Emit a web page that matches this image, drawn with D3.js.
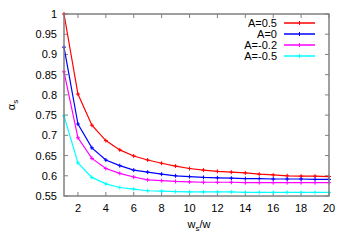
<!DOCTYPE html>
<html><head><meta charset="utf-8">
<script src="https://cdn.jsdelivr.net/npm/d3@7"></script>
<style>body{margin:0;background:#fff}svg{display:block}</style>
</head><body>
<script>
const xValues = [1,2,3,4,5,6,7,8,9,10,11,12,13,14,15,16,17,18,19,20];
const seriesNames = ["A=0.5","A=0","A=-0.2","A=-0.5"];
const seriesColors = ["#ff0000","#0000ff","#ff00ff","#00ffff"];
const valsA05 = [1.000,0.802,0.725,0.687,0.664,0.649,0.639,0.631,0.624,0.618,0.614,0.611,0.609,0.607,0.604,0.602,0.600,0.599,0.599,0.598];
const valsA0  = [0.918,0.728,0.669,0.639,0.625,0.614,0.609,0.604,0.600,0.598,0.596,0.595,0.594,0.593,0.593,0.592,0.592,0.592,0.591,0.591];
const valsAm02= [0.857,0.694,0.643,0.618,0.606,0.597,0.590,0.588,0.586,0.585,0.584,0.584,0.584,0.583,0.583,0.583,0.583,0.583,0.583,0.583];
const valsAm05= [0.748,0.632,0.596,0.580,0.571,0.567,0.563,0.562,0.561,0.560,0.560,0.560,0.560,0.559,0.559,0.559,0.559,0.559,0.559,0.559];
const xTicks = [2,4,6,8,10,12,14,16,18,20];
const yTicks = [0.55,0.6,0.65,0.7,0.75,0.8,0.85,0.9,0.95,1];

const series = [valsA05, valsA0, valsAm02, valsAm05];
const W=350,H=245;
const L=64,R=329,T=14,B=196;
const svg=d3.select("body").append("svg").attr("width",W).attr("height",H)
  .style("font-family","'Liberation Sans', Arial, sans-serif");
const x=d3.scaleLinear().domain([1,20]).range([L,R]);
const y=d3.scaleLinear().domain([0.55,1]).range([B,T]);
const axisColor="#808080";
const fs=11;

// ticks inside, mirrored
const tl=4;
const gt=svg.append("g").attr("stroke",axisColor).attr("stroke-width",1);
xTicks.forEach(t=>{
  gt.append("line").attr("x1",x(t)).attr("x2",x(t)).attr("y1",B).attr("y2",B-tl);
  gt.append("line").attr("x1",x(t)).attr("x2",x(t)).attr("y1",T).attr("y2",T+tl);
});
yTicks.forEach(t=>{
  gt.append("line").attr("x1",L).attr("x2",L+tl).attr("y1",y(t)).attr("y2",y(t));
  gt.append("line").attr("x1",R).attr("x2",R-tl).attr("y1",y(t)).attr("y2",y(t));
});

// tick labels
svg.append("g").selectAll("text").data(xTicks).join("text")
  .attr("x",d=>x(d)).attr("y",B+16).attr("text-anchor","middle")
  .attr("font-size",fs).attr("fill","#000").text(d=>d);
svg.append("g").selectAll("text").data(yTicks).join("text")
  .attr("x",57).attr("y",d=>y(d)+4).attr("text-anchor","end")
  .attr("font-size",fs).attr("fill","#000").text(d=>d3.format("")(+d.toFixed(2)));

// axis labels
const xl=svg.append("text").attr("x",199).attr("y",228).attr("text-anchor","middle").attr("font-size",fs);
xl.append("tspan").text("w");
xl.append("tspan").attr("dy",3).attr("font-size",8).text("s");
xl.append("tspan").attr("dy",-3).text("/w");
const yl=svg.append("text").attr("transform",`translate(15,${(T+B)/2}) rotate(-90)`)
  .attr("text-anchor","middle").attr("font-size",fs);
yl.append("tspan").text("α");
yl.append("tspan").attr("dy",3).attr("font-size",8).text("s");

// lines
const line=d3.line().x((d,i)=>x(xValues[i])).y(d=>y(d));
series.forEach((s,k)=>{
  const g=svg.append("g");
  g.append("path").attr("d",line(s)).attr("fill","none").attr("stroke",seriesColors[k]).attr("stroke-width",1.2);
  g.selectAll("path.m").data(s).join("path").attr("class","m")
    .attr("d",(d,i)=>{const cx=x(xValues[i]),cy=y(d);return `M${cx-2},${cy}H${cx+2}M${cx},${cy-2}V${cy+2}`;})
    .attr("stroke",seriesColors[k]).attr("stroke-width",1);
});

// legend
seriesNames.forEach((n,k)=>{
  const yy=23+k*11;
  svg.append("text").attr("x",277).attr("y",yy+4).attr("text-anchor","end").attr("font-size",fs).text(n);
  svg.append("line").attr("x1",284).attr("x2",315).attr("y1",yy).attr("y2",yy)
    .attr("stroke",seriesColors[k]).attr("stroke-width",1.5);
  svg.append("path").attr("d",`M299.5,${yy-2}V${yy+2}`).attr("stroke",seriesColors[k]).attr("stroke-width",1);
});

// border
svg.append("rect").attr("x",L).attr("y",T).attr("width",R-L).attr("height",B-T)
  .attr("fill","none").attr("stroke",axisColor).attr("stroke-width",1.5);
</script>
</body></html>
